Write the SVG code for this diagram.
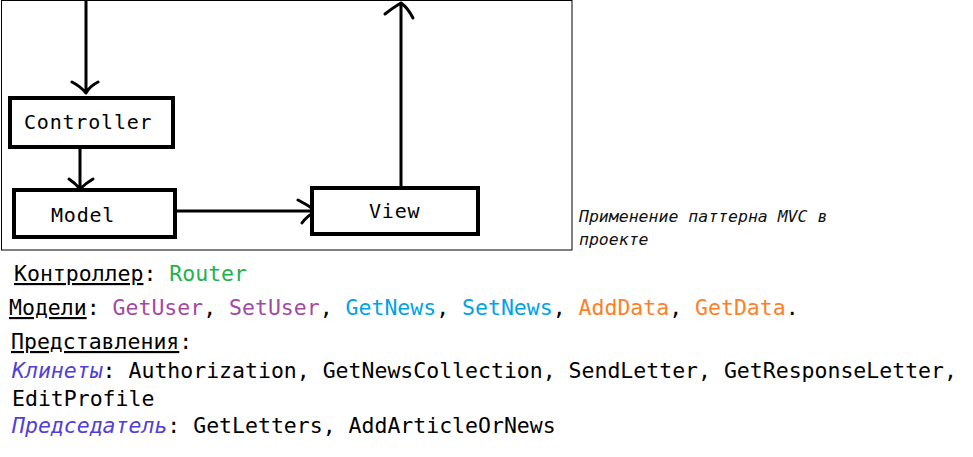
<svg xmlns="http://www.w3.org/2000/svg" width="973" height="457" viewBox="0 0 973 457">
<style>
.box{fill:#fff;stroke:#000;stroke-width:4}
.lbl{font-family:"DejaVu Sans Mono","Liberation Mono",monospace;font-size:20px;letter-spacing:0.8px;fill:#000}
.con{fill:none;stroke:#000;stroke-width:3;stroke-linecap:round;stroke-linejoin:round}
.t{font-family:"DejaVu Sans Mono","Liberation Mono",monospace;font-size:21.5px;fill:#000}
.u{text-decoration:underline}
.it{font-style:italic;fill:#5040d8}
.cap{font-family:"DejaVu Sans Mono","Liberation Mono",monospace;font-size:16.5px;font-style:italic;fill:#111}
</style>
<rect width="973" height="457" fill="#fff"/>
<rect id="frame" x="1.5" y="0.5" width="570.5" height="249.5" fill="none" stroke="#000" stroke-width="1"/>
<g id="connectors">
<path class="con" d="M86 0 L86 92 M72 82 Q80 86 86 93 Q90 86 98 82"/>
<path class="con" d="M80 147 L80 188 M69 179 Q75 183 80 189 Q86 183 93 179"/>
<path class="con" d="M176 211 L315 211 M298 200 Q308 205 316 211 Q307 216 302 223"/>
<path class="con" d="M401 186 L401 3 M385 14 Q394 7 401 3 Q408 8 413 18"/>
</g>
<g id="controller">
<rect class="box" x="10" y="98" width="163" height="49"/>
<text class="lbl" x="24" y="129">Controller</text>
</g>
<g id="model">
<rect class="box" x="14" y="190" width="161" height="47"/>
<text class="lbl" x="51" y="222">Model</text>
</g>
<g id="view">
<rect class="box" x="312" y="188" width="166" height="46"/>
<text class="lbl" x="369" y="218">View</text>
</g>
<g id="caption">
<text class="cap" x="579" y="222">Применение паттерна MVC в</text>
<text class="cap" x="579" y="245">проекте</text>
</g>
<g id="legend">
<text class="t" x="14" y="281"><tspan class="u">Контроллер</tspan>: <tspan fill="#22b14c">Router</tspan></text>
<text class="t" x="9" y="315"><tspan class="u">Модели</tspan>: <tspan fill="#a349a4">GetUser</tspan>, <tspan fill="#a349a4">SetUser</tspan>, <tspan fill="#00a2e8">GetNews</tspan>, <tspan fill="#00a2e8">SetNews</tspan>, <tspan fill="#ff7f27">AddData</tspan>, <tspan fill="#ff7f27">GetData</tspan>.</text>
<text class="t" x="11" y="349"><tspan class="u">Представления</tspan>:</text>
<text class="t" x="12" y="378"><tspan class="it">Клинеты</tspan>: Authorization, GetNewsCollection, SendLetter, GetResponseLetter,</text>
<text class="t" x="12" y="406">EditProfile</text>
<text class="t" x="12" y="433"><tspan class="it">Председатель</tspan>: GetLetters, AddArticleOrNews</text>
</g>
</svg>
